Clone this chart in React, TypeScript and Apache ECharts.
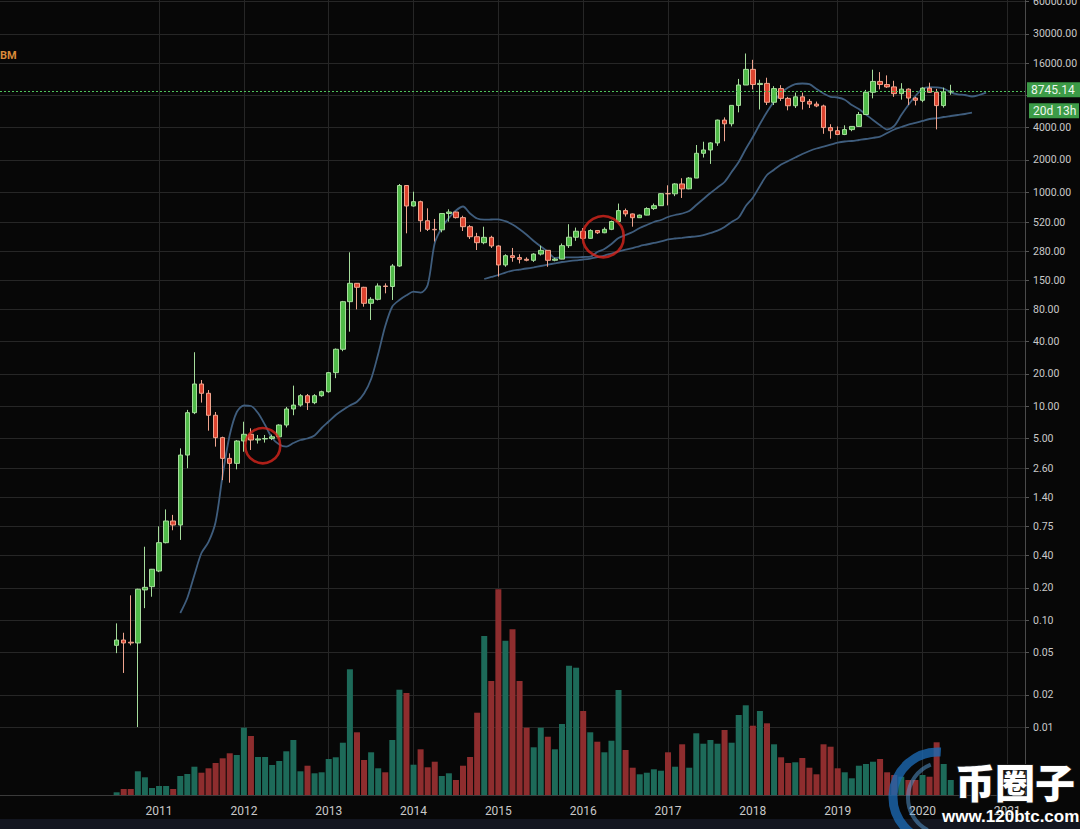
import React, { useEffect, useRef } from "react";
import * as echarts from "echarts";

// ---------- data (monthly, first month = Jul 2010, index 0) ----------
const FIRST_MONTH = "2010-07";
const YEAR_TICKS = ["2011", "2012", "2013", "2014", "2015", "2016", "2017", "2018", "2019", "2020", "2021"];
const YEAR_TICK_MONTH_INDEX = [6, 18, 30, 42, 54, 66, 78, 90, 102, 114, 126];

const PRICE_TICKS = [60000, 30000, 16000, 4000, 2000, 1000, 520, 280, 150, 80, 40, 20, 10, 5, 2.6, 1.4, 0.75, 0.4, 0.2, 0.1, 0.05, 0.02, 0.01];
const PRICE_GRID_EXTRA = [8000];

const OPEN = [
  0.058, 0.065, 0.062, 0.061, 0.191, 0.205, 0.287, 0.528, 0.842, 0.772,
  3.48, 8.66, 16.06, 13.15, 8.19, 5.06, 3.24, 2.91, 4.71, 5.44,
  4.81, 4.92, 4.97, 5.15, 6.64, 9.38, 10.2, 12.48, 10.74, 12.48,
  13.6, 20.5, 33.9, 94.4, 140.2, 128.6, 91.2, 99.3, 132.3, 130.8,
  203.4, 1150, 740, 812, 539, 448, 443, 630, 650, 576,
  474, 382, 336, 377, 313, 208, 254, 244, 235, 230,
  263, 285, 230, 236, 315, 378, 430, 369, 437, 416,
  448, 530, 670, 624, 575, 608, 700, 745, 966, 962,
  1190, 1070, 1350, 2300, 2470, 2875, 4700, 4340, 6450, 10000,
  14000, 10100, 10350, 6900, 9250, 7500, 6400, 7750, 7030, 6630,
  6370, 4000, 3740, 3450, 3830, 4100, 5300, 8550, 10800, 10100,
  9600, 8300, 9150, 7550, 7200, 9350, 8550, 6420, 8620
];
const CLOSE = [
  0.065, 0.061, 0.061, 0.194, 0.202, 0.298, 0.528, 0.842, 0.772, 3.48,
  8.66, 16.06, 13.15, 8.19, 5.06, 3.24, 2.91, 4.71, 5.44, 4.81,
  4.92, 4.97, 5.15, 6.64, 9.38, 10.2, 12.48, 10.74, 12.48, 13.6,
  20.5, 33.9, 94.4, 140.2, 128.6, 91.2, 99.3, 132.3, 130.8, 203.4,
  1150, 740, 812, 539, 448, 443, 630, 650, 576, 474,
  382, 336, 377, 313, 208, 254, 244, 235, 230, 263,
  285, 230, 236, 315, 378, 430, 369, 437, 416, 448,
  530, 670, 624, 575, 608, 700, 745, 965, 962, 1190,
  1070, 1350, 2300, 2470, 2875, 4700, 4340, 6450, 10000, 14000,
  10100, 10350, 6900, 9250, 7500, 6400, 7750, 7030, 6630, 6370,
  4000, 3740, 3450, 3830, 4100, 5300, 8550, 10800, 10100, 9600,
  8300, 9150, 7550, 7200, 9350, 8550, 6420, 8620, 8745.14
];
const LOW = [
  0.049, 0.032, 0.058, 0.01, 0.129, 0.165, 0.28, 0.52, 0.69, 0.56,
  2.62, 8.4, 10.76, 5.88, 4.17, 2.03, 1.92, 2.56, 3.74, 3.88,
  4.46, 4.55, 4.8, 5.1, 6.3, 8.2, 9.85, 9.18, 10.4, 12.2,
  13.3, 18.2, 32.5, 49.5, 80, 84.7, 63.6, 97, 113, 98,
  200, 411, 730, 425, 432, 345, 420, 528, 565, 432,
  364, 287, 325, 300, 162, 200, 223, 215, 225, 222,
  255, 200, 225, 235, 300, 350, 355, 365, 405, 412,
  440, 520, 590, 474, 572, 605, 680, 740, 750, 915,
  880, 1060, 1350, 2100, 1830, 2700, 2980, 4100, 5550, 10000,
  9100, 5900, 6500, 6500, 7100, 5800, 6100, 5900, 6100, 6200,
  3500, 3150, 3400, 3400, 3700, 4050, 5300, 7500, 9100, 9400,
  7750, 7300, 6500, 6450, 6900, 8450, 3850, 6150, 8100
];
const HIGH = [
  0.093, 0.076, 0.17, 0.196, 0.484, 0.3, 0.75, 1.08, 0.96, 4.02,
  9.2, 31.8, 17.5, 14.1, 8.79, 5.17, 3.61, 4.8, 7.13, 6.19,
  5.36, 5.36, 5.4, 6.75, 9.8, 15.5, 12.9, 12.95, 12.9, 13.9,
  20.8, 34.5, 96, 273, 141, 130, 104, 140, 140, 212,
  1188, 1160, 1006, 830, 704, 560, 635, 689, 655, 600,
  490, 415, 474, 390, 318, 262, 300, 262, 245, 268,
  315, 285, 243, 330, 500, 465, 460, 448, 440, 467,
  540, 780, 700, 630, 615, 720, 780, 975, 1155, 1210,
  1345, 1380, 2750, 2950, 2920, 4750, 4980, 6480, 11400, 19700,
  17200, 11200, 11700, 9750, 9960, 7750, 8500, 8500, 7400, 7000,
  6550, 4300, 4100, 4200, 4100, 5600, 9000, 13900, 13200, 12300,
  10950, 10400, 9300, 7750, 9550, 10500, 9200, 9450, 10050
];
const VOLUME = [
  2.7, 6, 6, 23.7, 17.7, 7, 9, 9, 6, 19,
  21, 28.3, 22.3, 26.7, 32, 36.7, 41.7, 40, 67.3, 59,
  38, 38, 30, 34, 43.7, 55, 23.7, 29.3, 21.7, 22.7,
  36, 37.7, 52.3, 125.7, 62.7, 35, 42.7, 26.7, 22.7, 55,
  105.3, 102, 30.3, 45.7, 27.7, 33.3, 19, 21.7, 15, 29.3,
  38, 82.3, 159, 114, 205.7, 154.3, 165.7, 114, 67.3, 47.7,
  67.3, 58.3, 45.7, 71, 129.3, 127.3, 84, 62.7, 53.3, 42.7,
  54.3, 105, 45, 27.3, 20.7, 22.3, 25.7, 24.3, 42.7, 28.3,
  50.7, 27.3, 61.7, 51.3, 55, 51.3, 65, 52.3, 80, 89.7,
  69.3, 84, 71.7, 50.7, 37.7, 32, 32.7, 37, 27.3, 20.7,
  50.7, 48.3, 26.7, 22.7, 16.7, 29.3, 31, 33.3, 36, 22.7,
  20, 18.3, 15, 15, 20, 18.3, 52.7, 31, 15
];

// shorter moving average (month index 9 .. 123, extends past the last candle)
const MA_SHORT_START = 9;
const MA_SHORT = [
  0.1162, 0.1606, 0.2634, 0.4229, 0.5358, 0.824, 2.265, 5.358, 8.79, 10.11,
  10.0, 8.6, 6.64, 5.02, 4.37, 4.18, 4.51, 4.81, 4.97, 5.3,
  6.23, 7.16, 8.24, 9.18, 10.11, 10.97, 13.09, 17.88, 30.62, 55.94,
  85.1, 97.9, 108.3, 117.0, 114.5, 135.1, 333.8, 463.8, 571.5, 671.5,
  731.9, 629.7, 565.4, 551.0, 553.4, 555.8, 533.5, 497.0, 448.2, 398.1,
  348.4, 309.5, 276.8, 241.6, 245.3, 245.3, 245.3, 246.9, 248.5, 275.0,
  293.3, 326.6, 371.6, 396.3, 422.9, 460.9, 491.6, 524.4, 547.5, 584.1,
  609.6, 629.7, 664.3, 755.9, 860.0, 978.8, 1102, 1240, 1538, 1907,
  2523, 3266, 4320, 5594, 7013, 8418, 9476, 10217, 10328, 10174,
  9175, 8329, 7757, 7642, 7288, 6504, 5967, 5301, 4710, 4202,
  3838, 4140, 5244, 6504, 7892, 9175, 9537, 9497, 9276, 8547,
  8187, 8064, 7808, 8064, 8472
];
// longer moving average (month index 52 .. 121)
const MA_LONG_START = 52;
const MA_LONG = [
  153.8, 160.6, 167.6, 176.8, 184.6, 188.6, 192.8, 197.8, 203.4, 209.2,
  215.6, 221.7, 226, 230, 234, 239, 246.9, 254.9, 266.2, 277.9,
  290.1, 299.6, 312.8, 323.1, 333.8, 344.8, 359.9, 367.7, 373.3, 379.8,
  385.5, 396.3, 413.9, 434.9, 470.9, 524.4, 577.8, 739.8, 884.5, 1138,
  1442, 1616, 1804, 1949, 2101, 2265, 2417, 2550, 2651, 2768,
  2888, 2965, 2997, 3062, 3129, 3210, 3287, 3559, 3838, 4051,
  4266, 4416, 4610, 4811, 4895, 5023, 5132, 5244, 5358, 5510
];

const LAST_PRICE = 8745.14;
const LAST_PRICE_LABEL = "8745.14";
const BAR_COUNTDOWN = "20d 13h";
const ANNOTATION_MONTH = [20.67, 68.84];
const ANNOTATION_PRICE = [4.26, 382];
const CORNER_TEXT = "BM";
const WATERMARK_TITLE = "币圈子";
const WATERMARK_URL = "www.120btc.com";

// ---------- layout / style constants ----------
const X_MIN = -16.5;
const X_MAX = 128.5;
const Y_MIN_LOG = -2.6355;
const Y_MAX_LOG = 4.7944;
const VOLUME_AXIS_MAX = 795;

const UP = "#50ba49";
const DOWN = "#dc4430";
const UP_VOL = "#1d6a59";
const DOWN_VOL = "#8e2d2e";
const MA_COLOR = "#3f5d7d";
const GRID_LINE = "#262626";
const AXIS_TEXT = "#c9c9c9";
const PRICE_GREEN = "#3c9b47";

const lg = (v: number) => Math.log10(v);

export default function App() {
  const ref = useRef<HTMLDivElement>(null);

  useEffect(() => {
    document.body.style.margin = "0";
    const el = ref.current;
    if (!el) return;
    const chart = echarts.init(el, null, { renderer: "svg" });

    const candleData = OPEN.map((o, i) => [i, lg(o), lg(CLOSE[i]), lg(LOW[i]), lg(HIGH[i])]);
    const volData = VOLUME.map((v, i) => ({
      value: [i, v],
      itemStyle: { color: CLOSE[i] >= OPEN[i] ? UP_VOL : DOWN_VOL },
    }));
    const maShort = MA_SHORT.map((v, k) => [MA_SHORT_START + k, lg(v)]);
    const maLong = MA_LONG.map((v, k) => [MA_LONG_START + k, lg(v)]);
    const circles = ANNOTATION_MONTH.map((m, k) => ({
      value: [m, lg(ANNOTATION_PRICE[k])],
      symbolSize: k === 0 ? 35 : 41,
    }));

    const priceTickLogs = PRICE_TICKS.map(lg);
    const gridTickLogs = PRICE_TICKS.concat(PRICE_GRID_EXTRA).map(lg);

    chart.setOption({
      animation: false,
      backgroundColor: "#070707",
      grid: {
        left: 0,
        right: 55,
        top: 0,
        bottom: 34,
        containLabel: false,
        outerBoundsMode: "none",
      },
      xAxis: {
        type: "value",
        min: X_MIN,
        max: X_MAX,
        axisLine: { show: true, onZero: false, lineStyle: { color: "#3a3a3a", width: 1 } },
        axisTick: { show: false, customValues: YEAR_TICK_MONTH_INDEX },
        axisLabel: {
          customValues: YEAR_TICK_MONTH_INDEX,
          color: AXIS_TEXT,
          fontSize: 12,
          fontFamily: "Roboto",
          margin: 10,
          formatter: (v: number) => {
            const k = YEAR_TICK_MONTH_INDEX.indexOf(Math.round(v));
            return k >= 0 ? YEAR_TICKS[k] : "";
          },
        },
        splitLine: { show: true, lineStyle: { color: GRID_LINE, width: 1 } },
      },
      yAxis: [
        {
          type: "value",
          position: "right",
          min: Y_MIN_LOG,
          max: Y_MAX_LOG,
          axisLine: { show: true, onZero: false, lineStyle: { color: "#4a4a4a", width: 1 } },
          axisTick: { show: true, length: 4, customValues: gridTickLogs, lineStyle: { color: "#555" } },
          axisLabel: {
            customValues: priceTickLogs,
            color: AXIS_TEXT,
            fontSize: 10.5,
            fontFamily: "Roboto",
            margin: 8,
            formatter: (v: number) => {
              const t = PRICE_TICKS.find((p) => Math.abs(lg(p) - v) < 1e-6);
              return t === undefined ? "" : t.toFixed(2);
            },
          },
          splitLine: { show: true, lineStyle: { color: GRID_LINE, width: 1 } },
        },
        {
          type: "value",
          min: 0,
          max: VOLUME_AXIS_MAX,
          show: false,
          axisLine: { show: false, onZero: false },
          splitLine: { show: false },
        },
      ],
      series: [
        {
          name: "Volume",
          type: "bar",
          xAxisIndex: 0,
          yAxisIndex: 1,
          barWidth: 6,
          data: volData,
          z: 1,
        },
        {
          name: "MA long",
          type: "line",
          yAxisIndex: 0,
          data: maLong,
          showSymbol: false,
          smooth: 0.3,
          lineStyle: { color: MA_COLOR, width: 1.8 },
          z: 2,
        },
        {
          name: "MA short",
          type: "line",
          yAxisIndex: 0,
          data: maShort,
          showSymbol: false,
          smooth: 0.3,
          lineStyle: { color: MA_COLOR, width: 1.8 },
          z: 2,
        },
        {
          name: "BTC",
          type: "candlestick",
          yAxisIndex: 0,
          barWidth: 5,
          data: candleData,
          itemStyle: {
            color: UP,
            color0: DOWN,
            borderColor: "#a6dd9c",
            borderColor0: "#f0a58f",
            borderWidth: 1,
          },
          markLine: {
            silent: true,
            symbol: ["none", "none"],
            label: { show: false },
            lineStyle: { color: "#4fc25a", type: [2, 2], width: 1 },
            data: [{ yAxis: lg(LAST_PRICE) }],
          },
          z: 3,
        },
        {
          name: "Marks",
          type: "scatter",
          yAxisIndex: 0,
          data: circles,
          symbol: "circle",
          itemStyle: { color: "rgba(0,0,0,0)", borderColor: "#d8261d", borderWidth: 2.6 },
          z: 5,
        },
      ],
    });

    const yp = chart.convertToPixel({ yAxisIndex: 0 }, lg(LAST_PRICE)) as number;

    chart.setOption({
      graphic: [
        { type: "rect", shape: { x: 0, y: 819, width: 1080, height: 10 }, style: { fill: "#131620" }, z: 10 },
        {
          type: "text",
          x: 0,
          y: 55,
          style: { text: CORNER_TEXT, fill: "#d98a3a", font: "bold 11px Roboto", textVerticalAlign: "middle", verticalAlign: "middle" },
          z: 10,
        },
        { type: "rect", shape: { x: 1027, y: yp - 9, width: 53, height: 15 }, style: { fill: PRICE_GREEN }, z: 20 },
        {
          type: "text",
          x: 1031,
          y: yp - 1.5,
          style: { text: LAST_PRICE_LABEL, fill: "#eef7ee", font: "12px Roboto", textVerticalAlign: "middle", verticalAlign: "middle" },
          z: 21,
        },
        { type: "rect", shape: { x: 1029, y: yp + 12, width: 50, height: 15 }, style: { fill: PRICE_GREEN }, z: 20 },
        {
          type: "text",
          x: 1033,
          y: yp + 19.5,
          style: { text: BAR_COUNTDOWN, fill: "#eef7ee", font: "12px Roboto", textVerticalAlign: "middle", verticalAlign: "middle" },
          z: 21,
        },
        // watermark swoosh
        {
          type: "arc",
          shape: { cx: 938, cy: 797, r: 45, startAngle: Math.PI * 0.52, endAngle: Math.PI * 1.52, clockwise: true },
          style: { stroke: "rgba(28,104,176,0.8)", lineWidth: 9, fill: null },
          z: 30,
        },
        {
          type: "arc",
          shape: { cx: 944, cy: 798, r: 36, startAngle: Math.PI * 0.65, endAngle: Math.PI * 1.38, clockwise: true },
          style: { stroke: "rgba(90,160,220,0.5)", lineWidth: 4, fill: null },
          z: 30,
        },
        {
          type: "text",
          x: 955,
          y: 781,
          style: {
            text: WATERMARK_TITLE,
            fill: "#ffffff",
            font: "900 40px 'Noto Sans CJK SC'",
            stroke: "#1a1a1a",
            lineWidth: 2,
            textVerticalAlign: "middle",
            verticalAlign: "middle",
          },
          z: 31,
        },
        {
          type: "text",
          x: 942,
          y: 816,
          style: {
            text: WATERMARK_URL,
            fill: "#ffffff",
            font: "bold 17px 'Liberation Sans'",
            stroke: "#1a1a1a",
            lineWidth: 1,
            textVerticalAlign: "middle",
            verticalAlign: "middle",
          },
          z: 31,
        },
      ],
    });

    return () => chart.dispose();
  }, []);

  return <div ref={ref} style={{ width: 1080, height: 829 }} data-first-month={FIRST_MONTH} />;
}
